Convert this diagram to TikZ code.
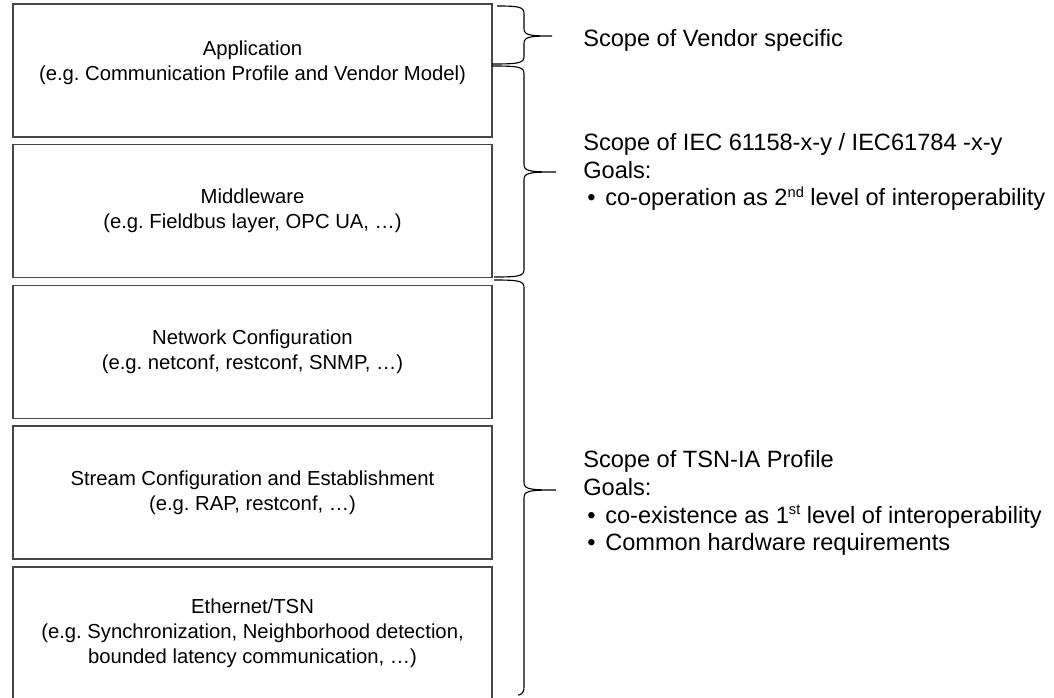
\documentclass[tikz,border=0pt]{standalone}
\usepackage{fontspec}
\setmainfont{Liberation Sans}
\frenchspacing
\newcommand\layerfont{\fontsize{15.2pt}{18.75pt}\selectfont}
\newcommand\scopefont{\fontsize{17.7pt}{20.9pt}\selectfont}
\newcommand\bul{\makebox[16.5pt][l]{\hspace{3pt}•}}
\newcommand\ordsup[1]{\raisebox{0.38em}{\fontsize{11pt}{11pt}\selectfont #1}}
\begin{document}
\begin{tikzpicture}[x=0.75pt,y=-0.75pt,
  layer/.style={draw=black!72, line width=0.9pt, minimum width=359.25pt,
    minimum height=99.75pt, inner sep=0pt, align=center, font=\layerfont},
  scope/.style={anchor=west, align=left, inner sep=0pt, font=\scopefont},
  bracestroke/.style={draw=black, line width=0.85pt}]
\useasboundingbox (0,0) rectangle (1054,697);
\clip (0,0) rectangle (1054,697);

% protocol layers
\node[layer] (app) at (252.5,70.5)
  {Application\\(e.g. Communication Profile and Vendor Model)\\[-4pt]\mbox{}};
\node[layer] (mid) at (252.5,211)
  {Middleware\\(e.g. Fieldbus layer, OPC UA, \dots)};
\node[layer] (net) at (252.5,352)
  {Network Configuration\\(e.g. netconf, restconf, SNMP, \dots)};
\node[layer] (stream) at (252.5,492.5)
  {Stream Configuration and Establishment\\(e.g. RAP, restconf, \dots)};
\node[layer] (eth) at (252.5,633.5)
  {Ethernet/TSN\\(e.g. Synchronization, Neighborhood detection,\\bounded latency communication, \dots)};

% right braces: top end x / top y / tip x / tip y / bottom end x / bottom y,
% vertical stem at x = 524
\foreach \xa/\ya/\xt/\yt/\xb/\yb/\n in
    {497/6/552/36/492/64/1, 492/66/556/172/494/277/2, 494/280/556/490/518/695/3}{
  \coordinate (brace\n top) at (\xa,\ya);
  \coordinate (brace\n tip) at (\xt,\yt);
  \coordinate (brace\n bot) at (\xb,\yb);
  \path[bracestroke]
    (brace\n top) .. controls (520,\ya) and (524,\ya+1) .. (524,\ya+8)
    -- (524,\yt-8)
    .. controls (524,\yt-1) and (528,\yt) .. (brace\n tip)
    .. controls (528,\yt) and (524,\yt+1) .. (524,\yt+8)
    -- (524,\yb-8)
    .. controls (524,\yb-1) and (520,\yb) .. (brace\n bot);
}

% scope descriptions
\node[scope] (vendor) at (583,40) {Scope of Vendor specific};
\node[scope] (iec) at (583,172)
  {Scope of IEC 61158-x-y / IEC61784 -x-y\\Goals:\\
   \bul co-operation as 2\ordsup{nd} level of interoperability};
\node[scope] (tsn) at (583,503)
  {Scope of TSN-IA Profile\\Goals:\\
   \bul co-existence as 1\ordsup{st} level of interoperability\\
   \bul Common hardware requirements};
\end{tikzpicture}
\end{document}
